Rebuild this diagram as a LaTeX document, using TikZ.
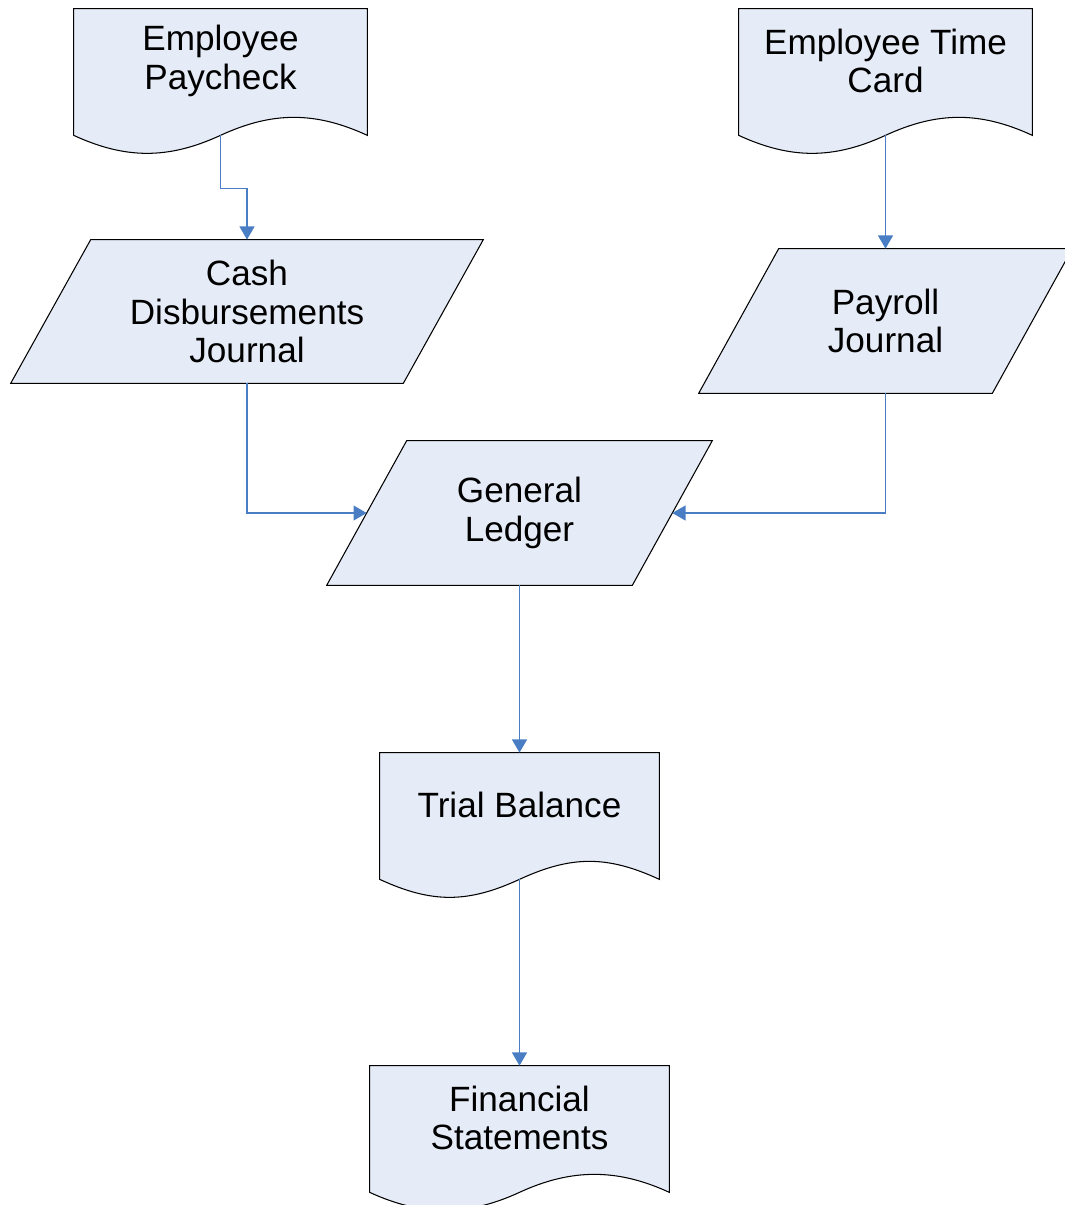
\documentclass[tikz,border=0pt]{standalone}
\usepackage{fontspec}
\setmainfont{Liberation Sans}
\usetikzlibrary{arrows.meta,backgrounds}
\definecolor{boxfill}{RGB}{230,236,247}
\definecolor{flowblue}{RGB}{74,126,196}
% document symbol: straight top, wavy bottom
\newcommand{\docoutline}[1]{%
  \begin{pgfonlayer}{background}
    \filldraw[shapeline] (#1.north west) -- (#1.north east) -- ([yshift=-4.4mm]#1.south east)
      .. controls +(-52,-24) and +(52,-24) .. ([yshift=-4.4mm]#1.south)
      .. controls +(-52,24) and +(52,24) .. ([yshift=-4.4mm]#1.south west) -- cycle;
  \end{pgfonlayer}
  \coordinate (#1-b) at ([yshift=-4.4mm]#1.south);}
% journal symbol: parallelogram
\newcommand{\paraoutline}[1]{%
  \begin{pgfonlayer}{background}
    \filldraw[shapeline] ([xshift=8mm]#1.north west) -- ([xshift=8mm]#1.north east)
      -- ([xshift=-8mm]#1.south east) -- ([xshift=-8mm]#1.south west) -- cycle;
  \end{pgfonlayer}}
\begin{document}
\begin{tikzpicture}[x=0.02cm, y=-0.02cm,
    docnode/.style = {minimum width=5.86cm, minimum height=2.08cm, inner sep=0pt, align=center, font=\fontsize{20}{22}\selectfont},
    ionode/.style = {minimum height=2.88cm, inner sep=0pt, align=center, font=\fontsize{20}{22}\selectfont},
    shapeline/.style = {draw=black, fill=boxfill, line width=0.6pt},
    flow/.style = {draw=flowblue, line width=0.7pt, -{Triangle[width=8.5pt,length=7.5pt]}}]
    \useasboundingbox (0,0) rectangle (1065,1205);
    \node[docnode] (paycheck) at (220.5,61) {Employee\\Paycheck};
    \node[docnode] (timecard) at (885.5,61) {Employee Time\\Card};
    \node[ionode, minimum width=7.84cm, minimum height=2.86cm] (cash) at (247,311.5) {Cash\\Disbursements\\Journal};
    \node[ionode, minimum width=5.86cm] (payroll) at (885.5,321) {Payroll\\Journal};
    \node[ionode, minimum width=6.1cm] (ledger) at (519.5,513) {General\\Ledger};
    \node[docnode, minimum width=5.58cm] (trial) at (519.5,805) {Trial Balance};
    \node[docnode, minimum width=5.98cm] (statements) at (519.5,1118) {Financial\\Statements};
    \docoutline{paycheck}
    \docoutline{timecard}
    \docoutline{trial}
    \docoutline{statements}
    \paraoutline{cash}
    \paraoutline{payroll}
    \paraoutline{ledger}
    \draw[flow] (paycheck-b) -- ++(0,53) -| (cash.north);
    \draw[flow] (timecard-b) -- (payroll.north);
    \draw[flow] (cash.south) |- (ledger.west);
    \draw[flow] (payroll.south) |- (ledger.east);
    \draw[flow] (ledger.south) -- (trial.north);
    \draw[flow] (trial-b) -- (statements.north);
\end{tikzpicture}
\end{document}
